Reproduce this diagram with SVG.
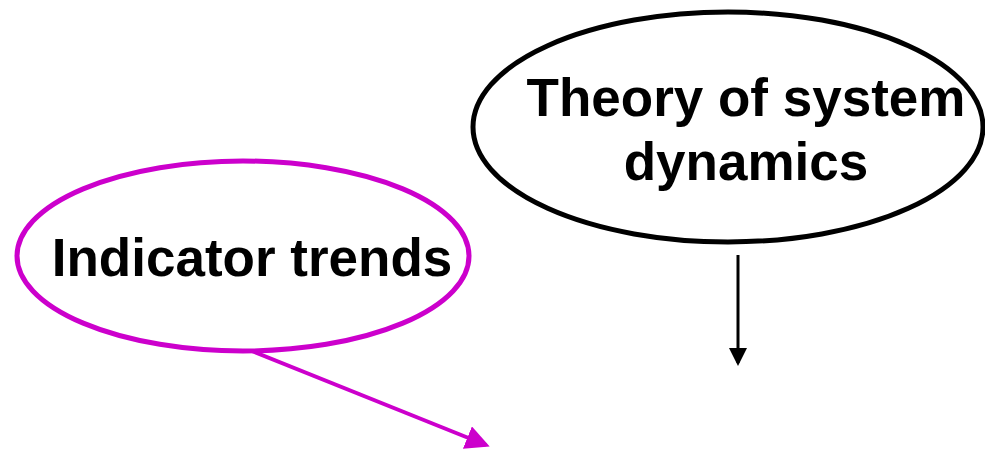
<svg xmlns="http://www.w3.org/2000/svg" width="985" height="449" viewBox="0 0 985 449">
<style>
.lbl{font-family:"Liberation Sans",Arial,sans-serif;font-weight:bold;font-size:53px;text-anchor:middle;fill:#000}
.node{fill:#fff;stroke-width:5}
</style>
<defs>
<marker id="ahM" markerWidth="6" markerHeight="6" refX="5" refY="3" orient="auto" markerUnits="strokeWidth"><path d="M0,0 L6,3 L0,6 z" fill="#CC00CC"/></marker>
<marker id="ahK" markerWidth="6" markerHeight="6" refX="5" refY="3" orient="auto" markerUnits="strokeWidth"><path d="M0,0 L6,3 L0,6 z" fill="#000"/></marker>
</defs>
<rect width="985" height="449" fill="#fff"/>
<g id="indicator">
<ellipse class="node" cx="243" cy="256" rx="226" ry="95" stroke="#CC00CC"/>
<text class="lbl" x="252" y="276">Indicator trends</text>
</g>
<g id="theory">
<ellipse class="node" cx="728" cy="127" rx="255" ry="115" stroke="#000"/>
<text class="lbl" x="746" y="116">Theory of system</text>
<text class="lbl" x="746" y="180">dynamics</text>
</g>
<g id="connectors">
<line x1="252" y1="351" x2="486" y2="445" stroke="#CC00CC" stroke-width="4" marker-end="url(#ahM)"/>
<line x1="738" y1="255" x2="738" y2="363" stroke="#000" stroke-width="3" marker-end="url(#ahK)"/>
</g>
</svg>
